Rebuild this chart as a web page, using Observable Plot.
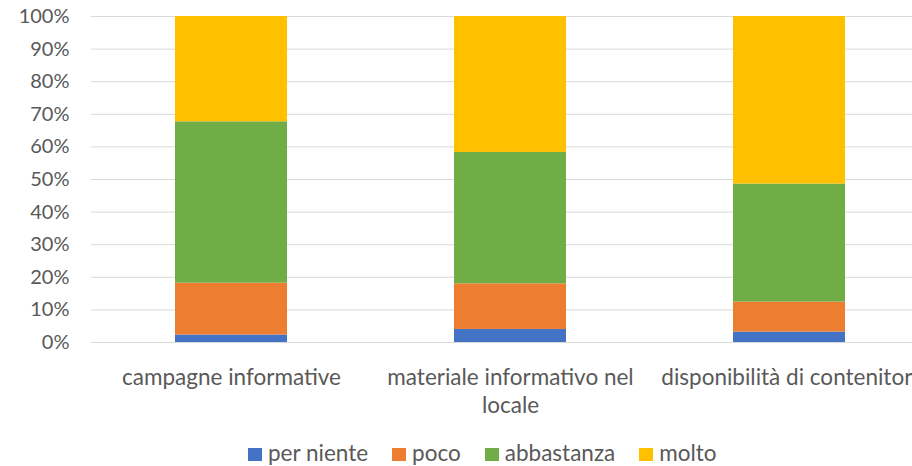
<!DOCTYPE html>
<html>
<head>
<meta charset="utf-8">
<script src="https://cdn.jsdelivr.net/npm/d3@7"></script>
<script src="https://cdn.jsdelivr.net/npm/@observablehq/plot@0.6"></script>
<style>
  html, body { margin: 0; padding: 0; background: #fff; }
  body { width: 912px; height: 466px; overflow: hidden; font-family: Lato, "Open Sans", sans-serif; position: relative; }
  #legend { position: absolute; left: 248px; top: 440px; display: flex; gap: 24px; font-size: 22.5px; color: #595959; height: 26px; align-items: center; line-height: 26px; }
  #legend div { display: flex; align-items: center; }
  #legend span.sw { display: inline-block; width: 14px; height: 13px; margin-right: 6px; margin-top: 3px; }
</style>
</head>
<body>
<div id="chart"></div>
<div id="legend"></div>
<script>
const categories = ["campagne informative", "materiale informativo nel locale", "disponibilità di contenitori"];
const tickLabels = ["campagne informative", "materiale informativo nel\nlocale", "disponibilità di contenitori"];
const series = ["per niente", "poco", "abbastanza", "molto"];
const perNiente = [0.023, 0.040, 0.032];
const poco = [0.159, 0.140, 0.092];
const abbastanza = [0.495, 0.403, 0.362];
const molto = [0.323, 0.417, 0.514];
const colors = ["#4472C4", "#ED7D31", "#70AD47", "#FFC000"];

const values = [perNiente, poco, abbastanza, molto];
const data = [];
series.forEach((s, si) => categories.forEach((c, ci) => data.push({cat: c, series: s, value: values[si][ci]})));

const chart = Plot.plot({
  width: 912,
  height: 435,
  marginLeft: 91,
  marginRight: 0,
  marginTop: 16,
  marginBottom: 93,
  style: {fontFamily: "Lato, 'Open Sans', sans-serif", fontSize: "20px", color: "#595959", background: "#fff"},
  x: {domain: categories, range: [91, 929], paddingInner: 0.6, paddingOuter: 0.3, label: null},
  y: {domain: [0, 1], label: null},
  color: {domain: series, range: colors},
  marks: [
    Plot.gridY({ticks: d3.range(0, 1.0001, 0.1), stroke: "#D9D9D9", strokeOpacity: 1, strokeWidth: 1}),
    Plot.axisY({ticks: d3.range(0, 1.0001, 0.1), tickFormat: d3.format(".0%"), tickSize: 0, tickPadding: 22, fontSize: 20, fill: "#595959", label: null}),
    Plot.barY(data, Plot.stackY({x: "cat", y: "value", fill: "series", order: series})),
    Plot.axisX({tickSize: 0, tickPadding: 23, fontSize: 22.5, fill: "#595959", lineHeight: 1.24, tickFormat: (d) => tickLabels[categories.indexOf(d)], label: null})
  ]
});
document.getElementById("chart").appendChild(chart);

const legend = document.getElementById("legend");
series.forEach((s, i) => {
  const item = document.createElement("div");
  item.innerHTML = `<span class="sw" style="background:${colors[i]}"></span>${s}`;
  legend.appendChild(item);
});
</script>
</body>
</html>
